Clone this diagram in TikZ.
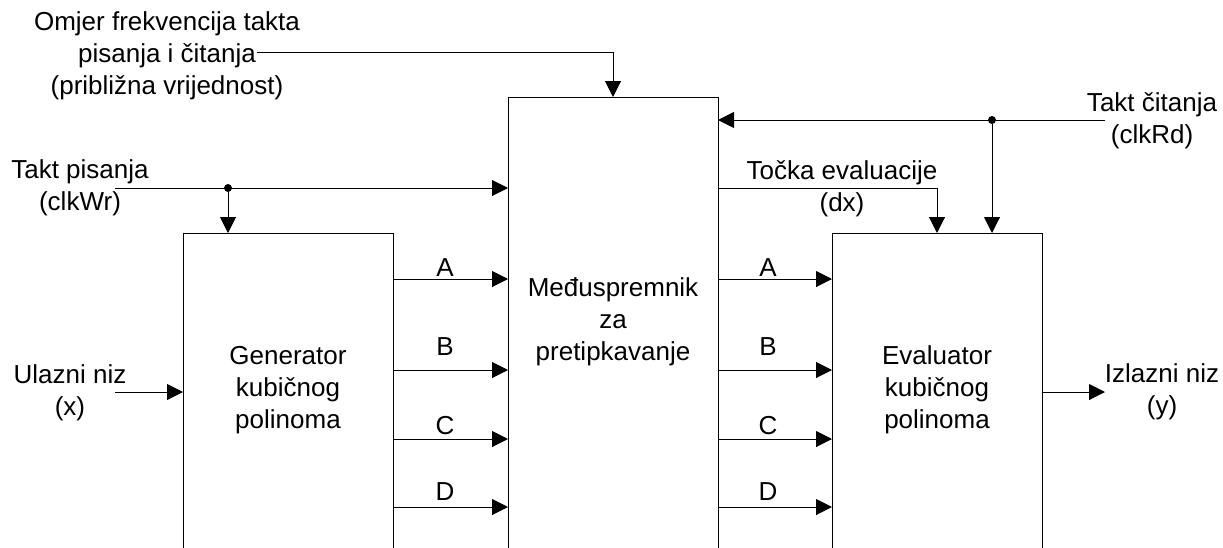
\documentclass[tikz,border=0pt]{standalone}
\usepackage{fontspec}
\setmainfont{Liberation Sans}
\usepackage{tikz}
\usetikzlibrary{arrows.meta,positioning}
\tikzstyle{block}=[draw,rectangle,minimum width=210pt,inner sep=0pt,outer sep=0pt,anchor=north]
\tikzstyle{arr} = [draw,line width=1pt,-{Triangle[length=16pt,width=16pt]}]
\tikzstyle{txt} = [align=center,inner sep=0pt]
\tikzstyle{lbl} = [inner sep=0pt]

\begin{document}
\begin{tikzpicture}[x=1pt,y=-1pt,line width=1pt,font=\fontsize{26}{32}\selectfont]
    \useasboundingbox (0,0) rectangle (1223,547);
    \clip (0,0) rectangle (1223,547);

    % blocks
    \node[block,minimum height=400pt] (gen) at (288,233) {};
    \node[block,minimum height=500pt] (buf) at (613,97) {};
    \node[block,minimum height=400pt] (eval) at (937,233) {};
    \node[txt] (gentext) at (288,390) {Generator\\kubičnog\\polinoma};
    \node[txt] (buftext) at (613,322) {Međuspremnik\\za\\pretipkavanje};
    \node[txt] (evaltext) at (937,390) {Evaluator\\kubičnog\\polinoma};

    % outside labels
    \node[txt] (ratio) at (167,56) {Omjer frekvencija takta\\pisanja i čitanja\\(približna vrijednost)};
    \node[txt] (clkwr) at (80,188) {Takt pisanja\\(clkWr)};
    \node[txt] (clkrd) at (1152,121) {Takt čitanja\\(clkRd)};
    \node[txt] (xin) at (70,393) {Ulazni niz\\(x)};
    \node[txt] (yout) at (1162,392) {Izlazni niz\\(y)};
    \node[txt] (dx) at (842,189) {Točka evaluacije\\(dx)};

    \coordinate (ratioin) at (257,52);
    \coordinate (wrin) at (115,188);
    \coordinate (wrsplit) at (228,188);
    \coordinate (rdin) at (1105,120);
    \coordinate (rdsplit) at (992,120);
    \coordinate (xstart) at (115,392);
    \coordinate (yend) at (1105,392);
    \coordinate (dxrow) at (0,188);

    % control inputs
    \path[arr] (ratioin) -| (buf.north);
    \path[arr] (wrin) -- (buf.west |- wrin);
    \path[arr] (wrsplit) -- (gen.north -| wrsplit);
    \fill (wrsplit) circle (4);
    \path[arr] (rdin) -- (buf.east |- rdin);
    \path[arr] (rdsplit) -- (eval.north -| rdsplit);
    \fill (rdsplit) circle (4);
    \path[arr] (buf.east |- dxrow) -| (eval.north);

    % data
    \path[arr] (xstart) -- (gen.west |- xstart);
    \path[arr] (eval.east |- yend) -- (yend);
    \foreach \name/\y/\ly in {A/279/268, B/370/347, C/439/426, D/507/492}
    {
        \coordinate (row\name) at (0,\y);
        \path[arr] (gen.east |- row\name) -- (buf.west |- row\name);
        \path[arr] (buf.east |- row\name) -- (eval.west |- row\name);
        \node[lbl] (l\name) at (445,\ly) {\name};
        \node[lbl] (r\name) at (768,\ly) {\name};
    }
\end{tikzpicture}
\end{document}
